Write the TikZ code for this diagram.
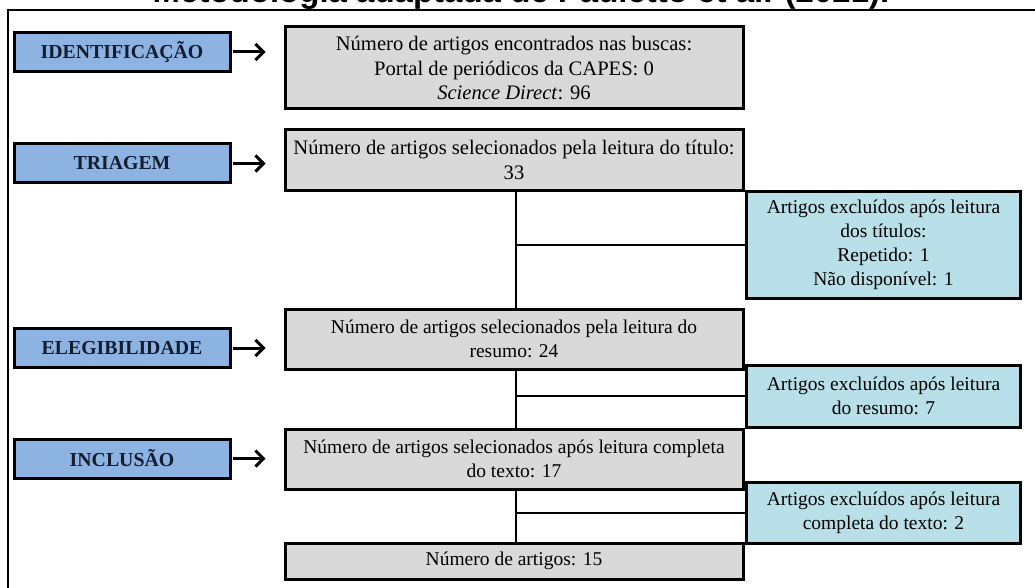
\documentclass[tikz,border=0pt]{standalone}
\usepackage{fontspec}
\setmainfont{Liberation Serif}
\newfontfamily\titlefont{Liberation Sans}
\usepackage{tikz}
\usetikzlibrary{arrows.meta}

\definecolor{stageblue}{HTML}{8DB3E2}
\definecolor{stageink}{HTML}{141C30}
\definecolor{countgray}{HTML}{D9D9D9}
\definecolor{exclcyan}{HTML}{B9DFE9}

\tikzset{
  stage/.style={draw, line width=3pt, fill=stageblue, text=stageink,
    minimum width=216, minimum height=39, inner sep=0pt,
    font=\fontsize{19.8}{22}\selectfont\bfseries},
  count/.style={draw, line width=3pt, fill=countgray, align=center,
    minimum width=458, inner sep=0pt,
    font=\fontsize{19.5}{24}\selectfont},
  bigcount/.style={count, font=\fontsize{20.6}{24.5}\selectfont},
  excl/.style={draw, line width=3pt, fill=exclcyan, align=center,
    minimum width=274, inner sep=0pt,
    font=\fontsize{19.5}{24}\selectfont},
  stagearrow/.style={line width=3pt, -{Straight Barb[length=8pt,width=16pt]},
    shorten <=1pt, shorten >=18pt},
  link/.style={line width=2pt}
}

\begin{document}
\begin{tikzpicture}[x=1pt,y=-1pt]
\useasboundingbox (0,0) rectangle (1035,588);
\clip (0,0) rectangle (1035,588);

% frame and title
\draw[line width=1.8pt] (8,10) rectangle (1050,600);
\node[anchor=base, inner sep=0pt, font=\titlefont\fontsize{33}{36}\selectfont\bfseries] (title) at (521,3) {Metodologia adaptada de Pauletto et al. (2021).};

% stages
\node[stage] (ident) at (122,52) {IDENTIFICAÇÃO};
\node[stage] (triag) at (122,163.5) {TRIAGEM};
\node[stage] (elegi) at (122,348) {ELEGIBILIDADE};
\node[stage] (inclu) at (122,458.5) {INCLUSÃO};

% counts
\node[bigcount, minimum height=82] (count1) at (514,68) {Número de artigos encontrados nas buscas:\\ Portal de periódicos da CAPES: 0\\ \textit{Science Direct}: 96};
\node[bigcount, minimum height=60] (count2) at (514,160) {Número de artigos selecionados pela leitura do título:\\ 33};
\node[count, minimum height=60] (count3) at (514,339) {Número de artigos selecionados pela leitura do\\ resumo: 24};
\node[count, minimum height=60] (count4) at (514,459) {Número de artigos selecionados após leitura completa\\ do texto: 17};
\node[count, minimum height=36] (count5) at (514,561) {Número de artigos: 15};

% exclusions
\node[excl, minimum height=107] (excl1) at (883.5,244.5) {Artigos excluídos após leitura\\ dos títulos:\\ Repetido: 1\\ Não disponível: 1};
\node[excl, minimum height=62] (excl2) at (883.5,396) {Artigos excluídos após leitura\\ do resumo: 7};
\node[excl, minimum height=61] (excl3) at (883.5,512.5) {Artigos excluídos após leitura\\ completa do texto: 2};

% arrows
\draw[stagearrow] (ident.east) -- (ident.east -| count1.west);
\draw[stagearrow] (triag.east) -- (triag.east -| count2.west);
\draw[stagearrow] (elegi.east) -- (elegi.east -| count3.west);
\draw[stagearrow] (inclu.east) -- (inclu.east -| count4.west);

% trunk and branches
\coordinate (trunk2) at ([xshift=2]count2.south);
\coordinate (trunk3) at ([xshift=2]count3.south);
\coordinate (trunk4) at ([xshift=2]count4.south);
\draw[link] (trunk2) -- ([xshift=2]count3.north);
\draw[link] (trunk3) -- ([xshift=2]count4.north);
\draw[link] (trunk4) -- ([xshift=2]count5.north);
\draw[link] (excl1.west -| trunk2) -- (excl1.west);
\draw[link] (excl2.west -| trunk3) -- (excl2.west);
\draw[link] (excl3.west -| trunk4) -- (excl3.west);
\end{tikzpicture}
\end{document}
